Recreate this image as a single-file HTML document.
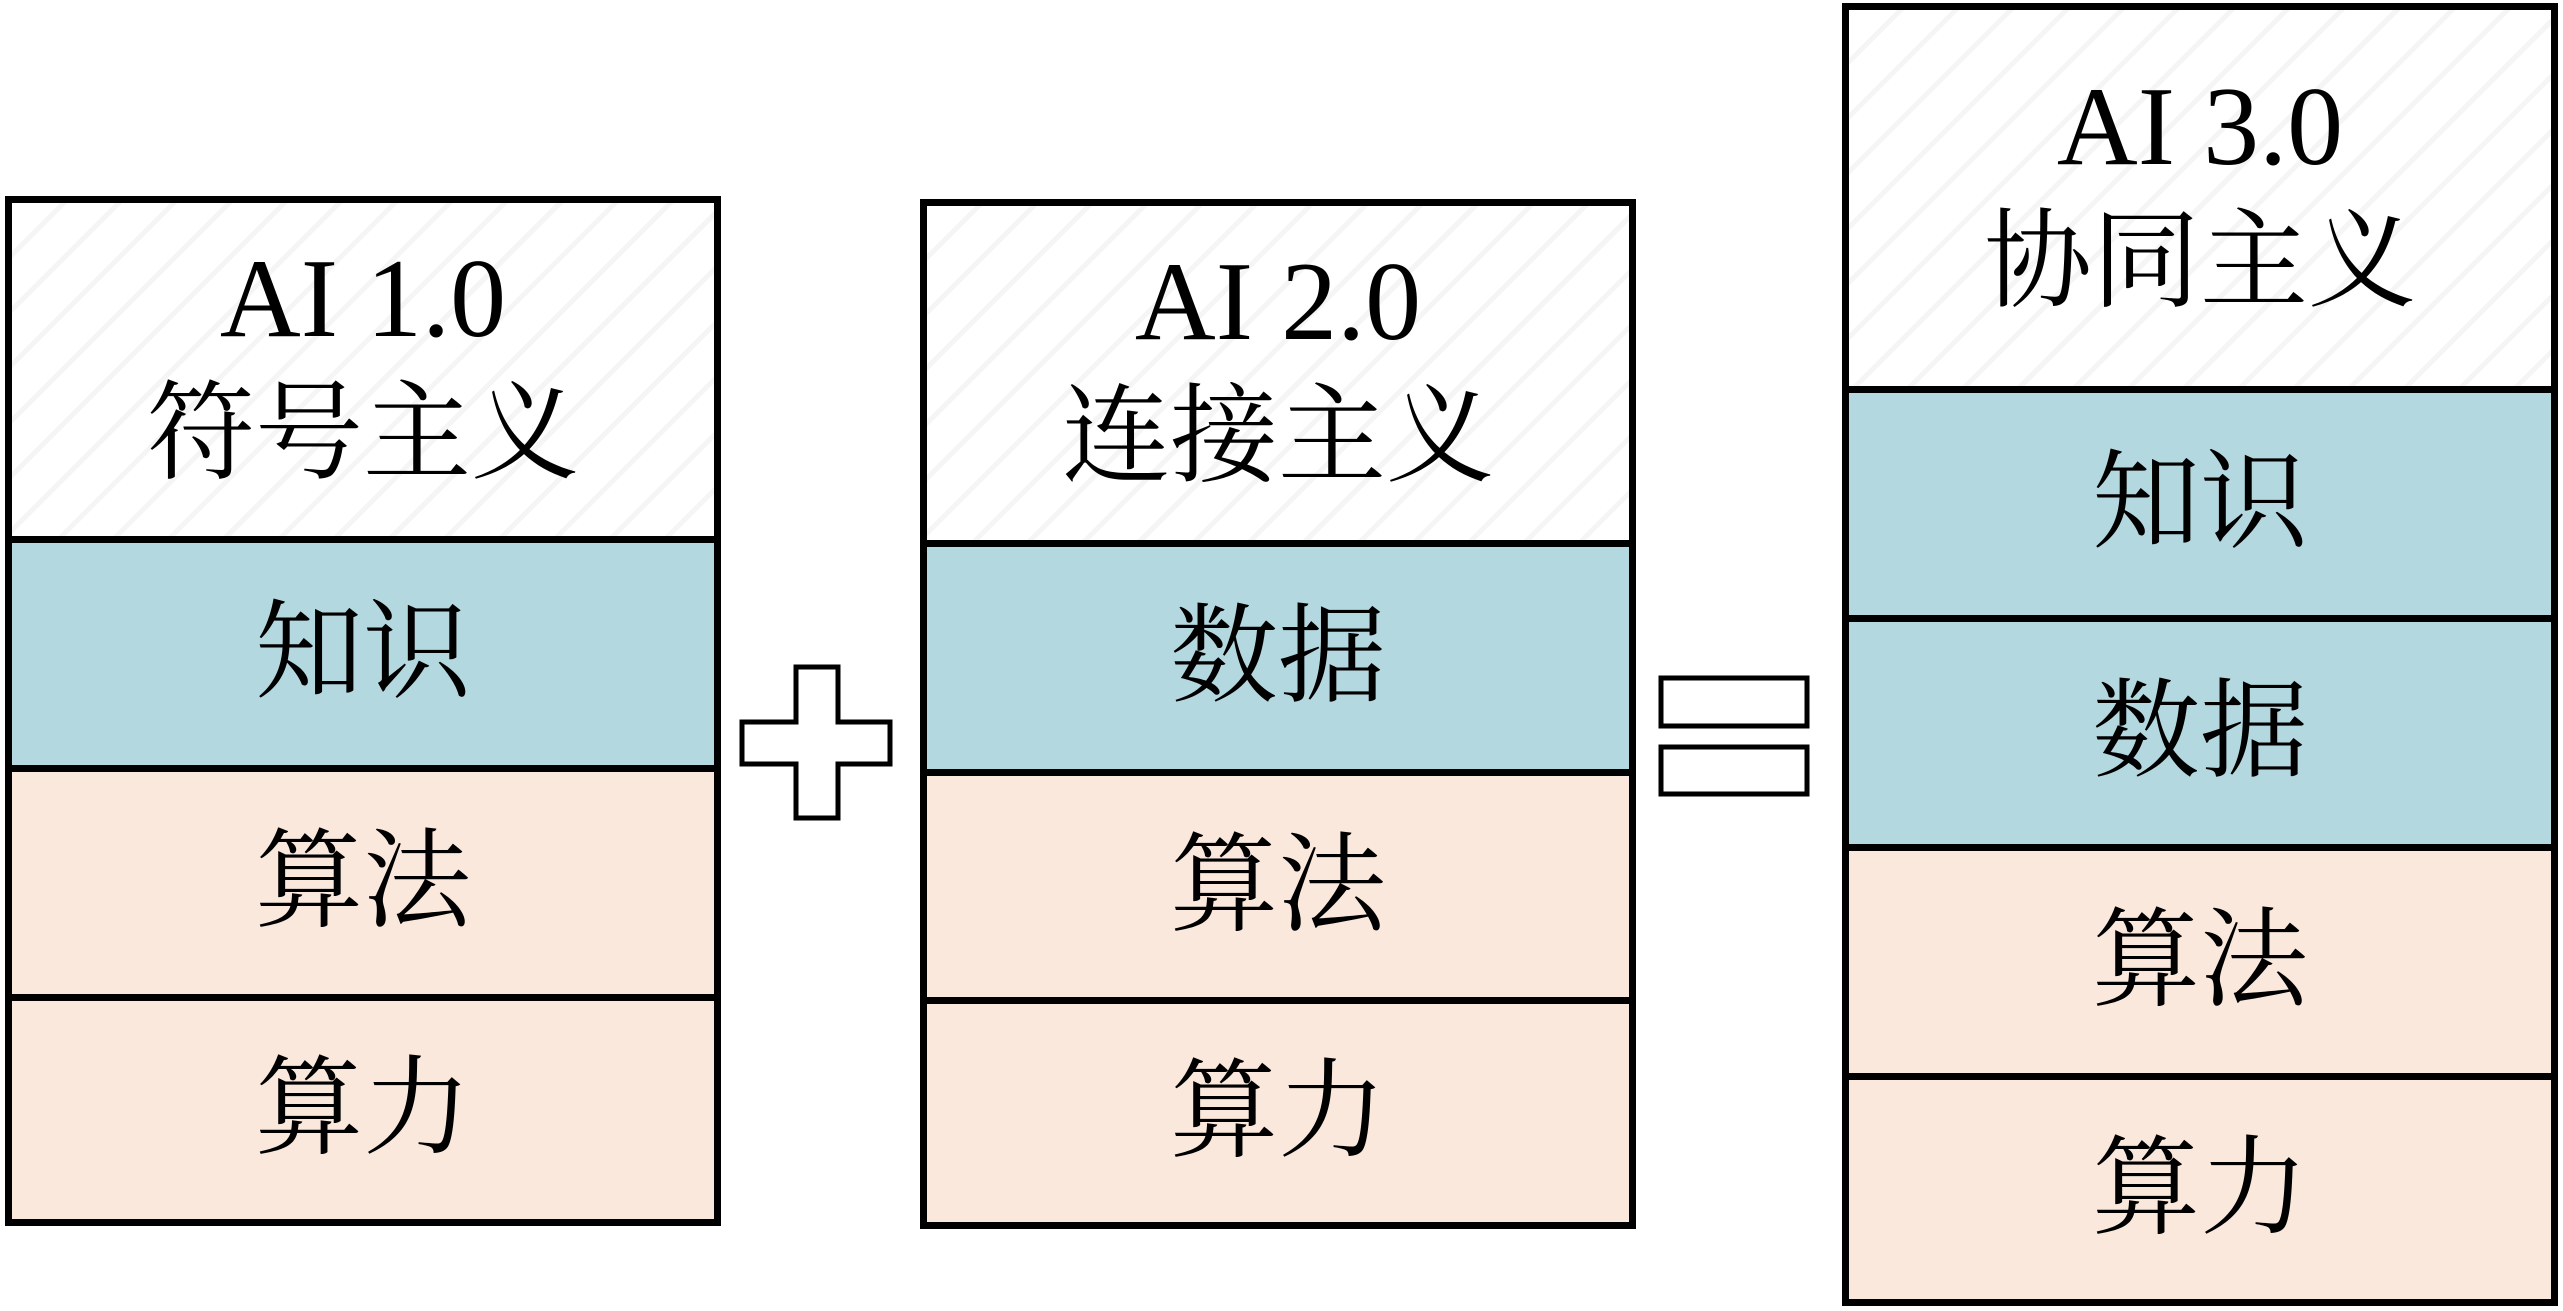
<!DOCTYPE html>
<html><head><meta charset="utf-8"><style>
body{margin:0;width:2563px;height:1311px;background:#fff;position:relative;overflow:hidden;font-family:"Liberation Serif","Noto Serif CJK SC",serif;}
.c{position:absolute;box-sizing:border-box;border:7px solid #000;display:flex;align-items:center;justify-content:center;font-size:108px;line-height:1;color:#000;}
.h{background:#fff repeating-linear-gradient(135deg,#fff 0,#fff 34px,#f5f5f5 34px,#f5f5f5 39px);flex-direction:column;}
.h span:first-child{font-size:112px;margin-bottom:26px;margin-top:-8px}
.b{background:#b4d8e0}.p{background:#fae8dc}
</style></head><body>
<div class="c h" style="left:5px;top:196px;width:716px;height:347px"><span>AI 1.0</span><span>符号主义</span></div>
<div class="c b" style="left:5px;top:536px;width:716px;height:236px">知识</div>
<div class="c p" style="left:5px;top:765px;width:716px;height:236px">算法</div>
<div class="c p" style="left:5px;top:994px;width:716px;height:232px">算力</div>

<div class="c h" style="left:920px;top:199px;width:716px;height:348px"><span>AI 2.0</span><span>连接主义</span></div>
<div class="c b" style="left:920px;top:540px;width:716px;height:236px">数据</div>
<div class="c p" style="left:920px;top:769px;width:716px;height:235px">算法</div>
<div class="c p" style="left:920px;top:997px;width:716px;height:232px">算力</div>

<div class="c h" style="left:1842px;top:3px;width:716px;height:390px"><span>AI 3.0</span><span>协同主义</span></div>
<div class="c b" style="left:1842px;top:386px;width:716px;height:236px">知识</div>
<div class="c b" style="left:1842px;top:615px;width:716px;height:236px">数据</div>
<div class="c p" style="left:1842px;top:844px;width:716px;height:236px">算法</div>
<div class="c p" style="left:1842px;top:1073px;width:716px;height:233px">算力</div>

<svg style="position:absolute;left:0;top:0" width="2563" height="1311">
<polygon points="796,667 838,667 838,722 890,722 890,764 838,764 838,818 796,818 796,764 742,764 742,722 796,722" fill="#fff" stroke="#000" stroke-width="5"/>
<rect x="1661" y="678" width="146" height="48" fill="#fff" stroke="#000" stroke-width="5"/>
<rect x="1661" y="747" width="146" height="47" fill="#fff" stroke="#000" stroke-width="5"/>
</svg>
</body></html>
